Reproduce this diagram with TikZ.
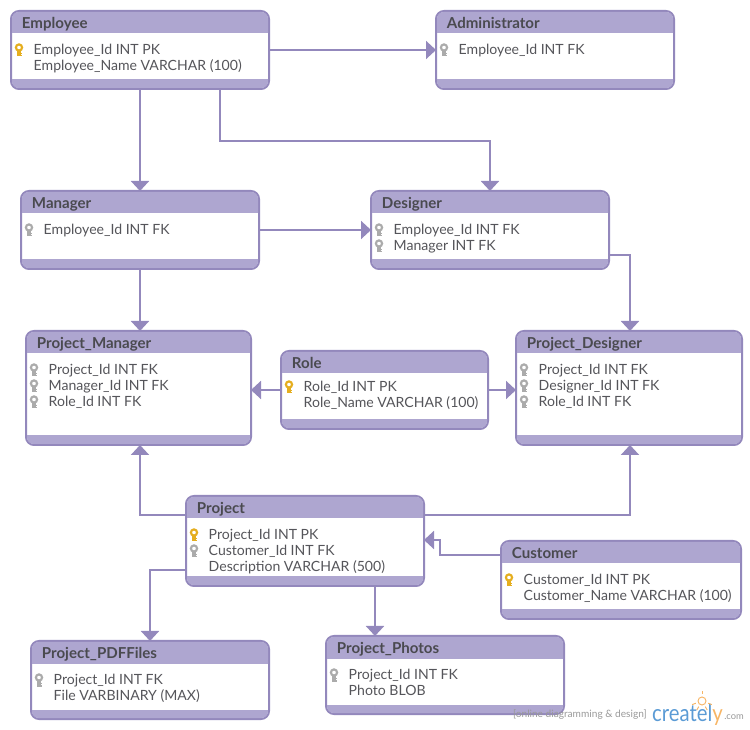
\documentclass[tikz,border=0pt]{standalone}
\usepackage{fontspec}
\setmainfont{Lato}
\usetikzlibrary{arrows.meta,calc}
\definecolor{edge}{HTML}{9388BC}
\definecolor{band}{HTML}{AEA6D0}
\definecolor{ink}{HTML}{4A4A4F}
\definecolor{rowink}{HTML}{55555A}
\definecolor{gold}{HTML}{E5AE1F}
\definecolor{silver}{HTML}{ABABAB}
\definecolor{logoblue}{HTML}{5B9BD5}
\definecolor{logoorange}{HTML}{F7B565}
\definecolor{logogrey}{HTML}{999999}
\tikzset{
  px/.style={x=0.75pt,y=-0.75pt},
  box/.style={draw=edge,line width=1.5pt,fill=white,rounded corners=6pt,inner sep=0pt,outer sep=0pt},
  titletext/.style={anchor=base west,inner sep=0pt,text=ink,font=\fontsize{11.3pt}{13pt}\selectfont\bfseries},
  rowtext/.style={anchor=base west,inner sep=0pt,text=rowink,yshift=-3.9pt,xshift=-0.4pt,font=\fontsize{10.55pt}{12pt}\selectfont},
  link/.style={draw=edge,line width=1.5pt,-{Triangle[length=7.5pt,width=13.5pt]}},
}
% name, x1, y1, x2, y2, title
\newcommand\entity[6]{%
  \node[box,minimum width={(#4-#2)*0.75pt},minimum height={(#5-#3)*0.75pt}] (#1) at ({(#2+#4)/2},{(#3+#5)/2}) {};
  \begin{scope}
    \clip (#2,#3) rectangle (#4,#3+22);
    \fill[band,rounded corners=5pt] (#2+1,#3+1) rectangle (#4-1,#5-1);
  \end{scope}
  \begin{scope}
    \clip (#2,#5-9) rectangle (#4,#5);
    \fill[band,rounded corners=5pt] (#2+1,#3+1) rectangle (#4-1,#5-1);
  \end{scope}
  \node[titletext] (#1-title) at (#2+10.7,#3+17.3) {#6};
}
% key x, row y, colour
\newcommand\keyicon[3]{%
  \fill[#3] (#1-1.8,#2+1) rectangle (#1+1.8,#2+7.5);
  \fill[#3] (#1+1,#2+3.6) rectangle (#1+3.4,#2+5.2);
  \fill[#3] (#1+1,#2+6) rectangle (#1+3,#2+7.5);
  \draw[#3,line width=1.6pt] (#1,#2-1.5) circle[radius=3.1];
}
% id, key x, text x, y, colour, text
\newcommand\attr[6]{%
  \keyicon{#2}{#4}{#5}
  \node[rowtext] (#1) at (#3,#4) {#6};
}
\begin{document}
\begin{tikzpicture}[px]
\useasboundingbox (0,0) rectangle (750,730);
\entity{emp}{11}{11}{269}{89}{Employee}
\attr{emp-a}{19}{34}{49}{gold}{Employee\_Id INT PK}
\node[rowtext] (emp-b) at (34,65) {Employee\_Name VARCHAR (100)};
\entity{adm}{436}{11}{674}{89}{Administrator}
\attr{adm-a}{444}{459}{49}{silver}{Employee\_Id INT FK}
\entity{mgr}{21}{191}{259}{269}{Manager}
\attr{mgr-a}{29}{44}{229}{silver}{Employee\_Id INT FK}
\entity{des}{371}{191}{609}{269}{Designer}
\attr{des-a}{379}{394}{229}{silver}{Employee\_Id INT FK}
\attr{des-b}{379}{394}{245}{silver}{Manager INT FK}
\entity{pm}{26}{331}{251}{445}{Project\_Manager}
\attr{pm-a}{34}{49}{369}{silver}{Project\_Id INT FK}
\attr{pm-b}{34}{49}{385}{silver}{Manager\_Id INT FK}
\attr{pm-c}{34}{49}{401}{silver}{Role\_Id INT FK}
\entity{role}{281}{351}{488}{429}{Role}
\attr{role-a}{289}{304}{386}{gold}{Role\_Id INT PK}
\node[rowtext] (role-b) at (304,402) {Role\_Name VARCHAR (100)};
\entity{pd}{516}{331}{742}{445}{Project\_Designer}
\attr{pd-a}{524}{539}{369}{silver}{Project\_Id INT FK}
\attr{pd-b}{524}{539}{385}{silver}{Designer\_Id INT FK}
\attr{pd-c}{524}{539}{401}{silver}{Role\_Id INT FK}
\entity{prj}{186}{496}{424}{586}{Project}
\attr{prj-a}{194}{209}{534}{gold}{Project\_Id INT PK}
\attr{prj-b}{194}{209}{550}{silver}{Customer\_Id INT FK}
\node[rowtext] (prj-c) at (209,566) {Description VARCHAR (500)};
\entity{cus}{501}{541}{741}{619}{Customer}
\attr{cus-a}{509}{524}{579}{gold}{Customer\_Id INT PK}
\node[rowtext] (cus-b) at (524,595) {Customer\_Name VARCHAR (100)};
\entity{pdf}{31}{641}{269}{719}{Project\_PDFFiles}
\attr{pdf-a}{39}{54}{679}{silver}{Project\_Id INT FK}
\node[rowtext] (pdf-b) at (54,695) {File VARBINARY (MAX)};
\entity{pho}{326}{636}{564}{714}{Project\_Photos}
\attr{pho-a}{334}{349}{674}{silver}{Project\_Id INT FK}
\node[rowtext] (pho-b) at (349,690) {Photo BLOB};
% connectors
\draw[link] (emp.east) -- (adm.west);
\draw[link] (emp.south) -- (mgr.north);
\draw[link] ($(emp.south)+(80,0)$) |- ($(emp.south)+(350,52.5)$) -- (des.north);
\draw[link] (mgr.east) -- (des.west);
\draw[link] (mgr.south) -- (mgr.south |- pm.north);
\draw[link] ($(des.east)+(0,25)$) -| ($(pd.north)+(1,0)$);
\draw[link] (role.west) -- (role.west -| pm.east);
\draw[link] (role.east) -- (role.east -| pd.west);
\draw[link] ($(prj.west)+(0,-26)$) -| (mgr.south |- pm.south);
\draw[link] ($(prj.east)+(0,-26)$) -| ($(pd.south)+(1,0)$);
\draw[link] ($(cus.west)+(0,-25)$) -- +(-61,0) |- (prj.east |- 0,540);
\draw[link] ($(prj.west)+(0,29)$) -| (pdf.north);
\draw[link] ($(prj.south)+(70,0)$) -- ($(pho.north)+(-70,0)$);
% logo
\node[anchor=east,inner sep=0pt,text=logogrey,font=\fontsize{7.6pt}{9pt}\selectfont] (tagline) at (647,715) {[online diagramming \& design]};
\node[anchor=base west,inner sep=0pt,text=logoblue,xscale=0.87,transform shape,font=\fontsize{17.5pt}{19pt}\selectfont] (logo) at (652,721) {create\textcolor{logoblue}{l}\textcolor{logoorange}{y}};
\node[anchor=base west,inner sep=0pt,text=logogrey,font=\fontsize{7pt}{8pt}\selectfont] (dotcom) at (724,719.5) {.com};
\draw[logoorange,line width=0.7pt] (702,701) circle[radius=4];
\foreach \a in {20,60,120,160}{\draw[logoorange,line width=0.7pt] (702,701) ++(\a:6.5) -- ++(\a:4);}
\draw[logoorange,line width=0.7pt] (702,691) -- (702,694);
\end{tikzpicture}
\end{document}
